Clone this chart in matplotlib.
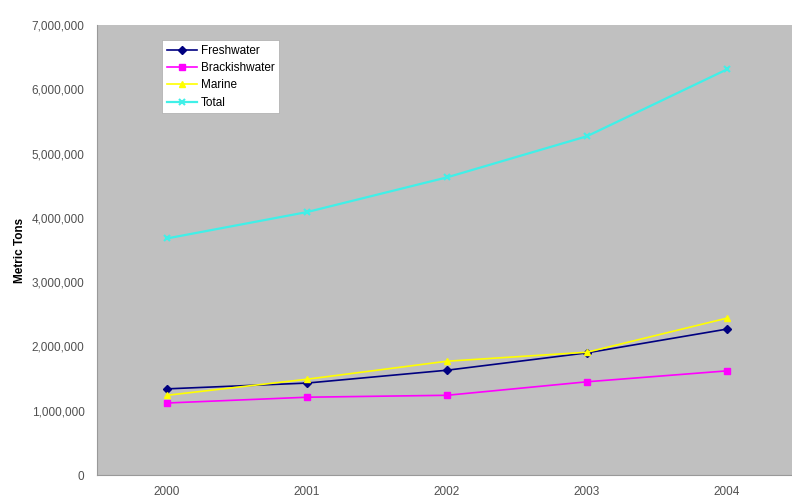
import matplotlib
matplotlib.use("Agg")
import matplotlib.pyplot as plt
from matplotlib.ticker import FuncFormatter

years = ["2000", "2001", "2002", "2003", "2004"]
freshwater = [1340000, 1430000, 1630000, 1900000, 2270000]
brackishwater = [1120000, 1210000, 1240000, 1450000, 1620000]
marine = [1240000, 1490000, 1770000, 1910000, 2440000]
total = [3680000, 4090000, 4630000, 5270000, 6310000]

plt.rcParams['font.family'] = ['Liberation Sans', 'DejaVu Sans']

fig = plt.figure(figsize=(7.92, 4.97), dpi=100)
ax = fig.add_axes([97/792, 22/497, (792-97)/792, 450/497])
ax.set_facecolor('#C0C0C0')

x = list(range(len(years)))
ax.plot(x, freshwater, color='#000080', marker='D', markersize=4, lw=1.2, label='Freshwater')
ax.plot(x, brackishwater, color='#FF00FF', marker='s', markersize=5, lw=1.2, label='Brackishwater')
ax.plot(x, marine, color='#FFFF00', marker='^', markersize=5, lw=1.2, label='Marine')
ax.plot(x, total, color='#40F0E8', marker='x', markersize=5, mew=1.5, lw=1.6, label='Total')

ax.set_ylim(0, 7000000)
ax.set_xlim(-0.5, 4.5 - 5/140)
ax.set_yticks(range(0, 7000001, 1000000))
ax.yaxis.set_major_formatter(FuncFormatter(lambda v, p: f"{int(v):,}"))
ax.set_xticks(x)
ax.set_xticklabels(years)
ax.tick_params(axis='both', length=0, labelsize=8.5, colors='#505050', pad=9)
ax.tick_params(axis='x', pad=8)
for s in ax.spines.values():
    s.set_visible(False)
ax.spines['left'].set_visible(True)
ax.spines['left'].set_color('#999999')
ax.spines['bottom'].set_visible(True)
ax.spines['bottom'].set_color('#999999')

ax.set_ylabel('Metric Tons', fontsize=8.5, fontweight='bold', labelpad=4)

leg = ax.legend(loc='upper left', bbox_to_anchor=((162-97)/695, (475-40)/450),
                fontsize=8.5, frameon=True, fancybox=False, edgecolor='#AAAAAA',
                framealpha=1, borderpad=0.4, labelspacing=0.45, handlelength=2.6,
                handletextpad=0.3, borderaxespad=0)
leg.get_frame().set_linewidth(0.5)

fig.savefig('out.png', dpi=100)
